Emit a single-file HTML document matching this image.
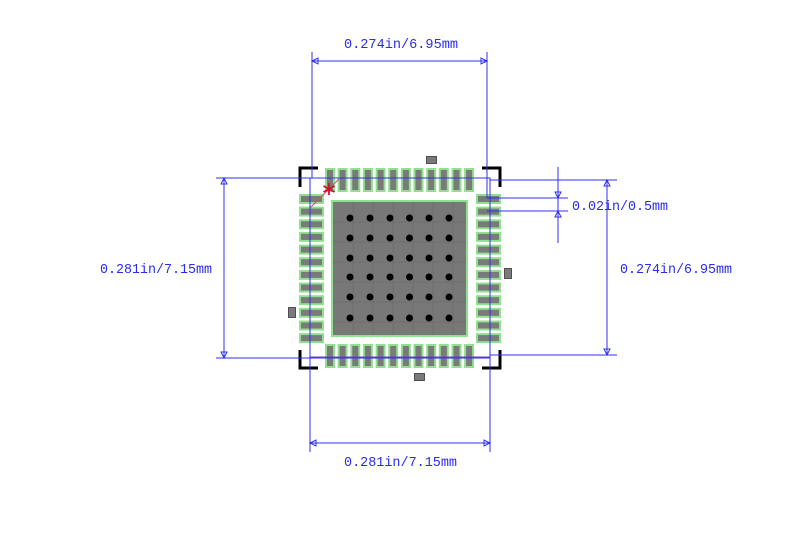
<!DOCTYPE html>
<html><head><meta charset="utf-8"><style>
html,body{margin:0;padding:0;background:#fff;width:800px;height:555px;overflow:hidden}
svg{display:block}
text{font-family:"Liberation Mono",monospace;fill:#2b2bf0;font-size:14px}
</style></head><body>
<svg width="800" height="555" viewBox="0 0 800 555" xmlns="http://www.w3.org/2000/svg">
<defs>
<g id="pv"><rect x="0" y="0" width="10" height="24" fill="#8fe08f"/><rect x="2" y="2" width="6" height="20" fill="#7a7a7a"/></g>
<g id="ph"><rect x="0" y="0" width="25" height="10" fill="#8fe08f"/><rect x="2" y="2" width="21" height="6" fill="#7a7a7a"/></g>
</defs>
<g transform="translate(0,168)">
<use href="#pv" x="325"/><use href="#pv" x="337.6"/><use href="#pv" x="350.3"/><use href="#pv" x="362.9"/><use href="#pv" x="375.6"/><use href="#pv" x="388.2"/><use href="#pv" x="400.9"/><use href="#pv" x="413.5"/><use href="#pv" x="426.2"/><use href="#pv" x="438.8"/><use href="#pv" x="451.5"/><use href="#pv" x="464.1"/>
</g>
<g transform="translate(0,344)">
<use href="#pv" x="325"/><use href="#pv" x="337.6"/><use href="#pv" x="350.3"/><use href="#pv" x="362.9"/><use href="#pv" x="375.6"/><use href="#pv" x="388.2"/><use href="#pv" x="400.9"/><use href="#pv" x="413.5"/><use href="#pv" x="426.2"/><use href="#pv" x="438.8"/><use href="#pv" x="451.5"/><use href="#pv" x="464.1"/>
</g>
<g transform="translate(299,0)">
<use href="#ph" y="194"/><use href="#ph" y="206.6"/><use href="#ph" y="219.3"/><use href="#ph" y="231.9"/><use href="#ph" y="244.6"/><use href="#ph" y="257.2"/><use href="#ph" y="269.9"/><use href="#ph" y="282.5"/><use href="#ph" y="295.2"/><use href="#ph" y="307.8"/><use href="#ph" y="320.5"/><use href="#ph" y="333.1"/>
</g>
<g transform="translate(476,0)">
<use href="#ph" y="194"/><use href="#ph" y="206.6"/><use href="#ph" y="219.3"/><use href="#ph" y="231.9"/><use href="#ph" y="244.6"/><use href="#ph" y="257.2"/><use href="#ph" y="269.9"/><use href="#ph" y="282.5"/><use href="#ph" y="295.2"/><use href="#ph" y="307.8"/><use href="#ph" y="320.5"/><use href="#ph" y="333.1"/>
</g>
<rect x="331" y="200" width="137" height="137" fill="#8fe08f"/>
<rect x="333" y="202" width="133" height="133" fill="#787878"/>
<g stroke="#6e6e6e" stroke-width="1">
<line x1="353" y1="202" x2="353" y2="335"/><line x1="373" y1="202" x2="373" y2="335"/><line x1="393" y1="202" x2="393" y2="335"/><line x1="413" y1="202" x2="413" y2="335"/><line x1="433" y1="202" x2="433" y2="335"/><line x1="453" y1="202" x2="453" y2="335"/>
<line x1="333" y1="222" x2="466" y2="222"/><line x1="333" y1="242" x2="466" y2="242"/><line x1="333" y1="262" x2="466" y2="262"/><line x1="333" y1="282" x2="466" y2="282"/><line x1="333" y1="302" x2="466" y2="302"/><line x1="333" y1="322" x2="466" y2="322"/>
</g>
<g fill="#000">
<g transform="translate(0,218)"><circle cx="350" r="3.5"/><circle cx="370" r="3.5"/><circle cx="390" r="3.5"/><circle cx="409.5" r="3.5"/><circle cx="429" r="3.5"/><circle cx="449" r="3.5"/></g>
<g transform="translate(0,238)"><circle cx="350" r="3.5"/><circle cx="370" r="3.5"/><circle cx="390" r="3.5"/><circle cx="409.5" r="3.5"/><circle cx="429" r="3.5"/><circle cx="449" r="3.5"/></g>
<g transform="translate(0,258)"><circle cx="350" r="3.5"/><circle cx="370" r="3.5"/><circle cx="390" r="3.5"/><circle cx="409.5" r="3.5"/><circle cx="429" r="3.5"/><circle cx="449" r="3.5"/></g>
<g transform="translate(0,277)"><circle cx="350" r="3.5"/><circle cx="370" r="3.5"/><circle cx="390" r="3.5"/><circle cx="409.5" r="3.5"/><circle cx="429" r="3.5"/><circle cx="449" r="3.5"/></g>
<g transform="translate(0,297)"><circle cx="350" r="3.5"/><circle cx="370" r="3.5"/><circle cx="390" r="3.5"/><circle cx="409.5" r="3.5"/><circle cx="429" r="3.5"/><circle cx="449" r="3.5"/></g>
<g transform="translate(0,318)"><circle cx="350" r="3.5"/><circle cx="370" r="3.5"/><circle cx="390" r="3.5"/><circle cx="409.5" r="3.5"/><circle cx="429" r="3.5"/><circle cx="449" r="3.5"/></g>
</g>
<g fill="#7a7a7a" stroke="#333" stroke-width="0.8">
<rect x="426.5" y="156.5" width="10" height="7"/><rect x="504.5" y="268.5" width="7" height="10"/><rect x="288.5" y="307.5" width="7" height="10"/><rect x="414.5" y="373.5" width="10" height="7"/>
</g>
<g stroke="#000" stroke-width="3" fill="none">
<polyline points="300,187 300,168 318,168"/><polyline points="482,168 500,168 500,187"/>
<polyline points="300,350 300,368 318,368"/><polyline points="482,368 500,368 500,350"/>
</g>
<rect x="310" y="178" width="180" height="179" fill="none" stroke="#7040c0" stroke-width="1"/>
<line x1="310" y1="208" x2="339" y2="179" stroke="#d05070" stroke-width="1"/>
<g stroke="#d01030" stroke-width="1.8"><line x1="329" y1="183" x2="329" y2="195"/><line x1="323.5" y1="186" x2="334.5" y2="192"/><line x1="323.5" y1="192" x2="334.5" y2="186"/></g>
<g stroke="#3030f0" stroke-width="1" fill="none">
<line x1="312" y1="52" x2="312" y2="178"/><line x1="487" y1="52" x2="487" y2="198"/>
<line x1="312" y1="61" x2="487" y2="61"/>
<line x1="216" y1="178" x2="490" y2="178"/><line x1="216" y1="358" x2="490" y2="358"/>
<line x1="224" y1="178" x2="224" y2="358"/>
<line x1="310" y1="178" x2="310" y2="452"/><line x1="490" y1="178" x2="490" y2="452"/>
<line x1="310" y1="443" x2="490" y2="443"/>
<line x1="490" y1="180" x2="617" y2="180"/><line x1="490" y1="355" x2="617" y2="355"/>
<line x1="607" y1="180" x2="607" y2="355"/>
<line x1="487" y1="198" x2="568" y2="198"/><line x1="487" y1="211" x2="568" y2="211"/>
<line x1="558" y1="167" x2="558" y2="243"/>
</g>
<g fill="none" stroke="#3030f0" stroke-width="1">
<polygon points="312,61 318,58 318,64"/><polygon points="487,61 481,58 481,64"/>
<polygon points="310,443 316,440 316,446"/><polygon points="490,443 484,440 484,446"/>
<polygon points="224,178 221,184 227,184"/><polygon points="224,358 221,352 227,352"/>
<polygon points="607,180 604,186 610,186"/><polygon points="607,355 604,349 610,349"/>
<polygon points="558,198 555,192 561,192"/><polygon points="558,211 555,217 561,217"/>
</g>
<text x="344" y="48" textLength="114" lengthAdjust="spacingAndGlyphs">0.274in/6.95mm</text>
<text x="344" y="466" textLength="113" lengthAdjust="spacingAndGlyphs">0.281in/7.15mm</text>
<text x="100" y="273" textLength="112" lengthAdjust="spacingAndGlyphs">0.281in/7.15mm</text>
<text x="620" y="273" textLength="112" lengthAdjust="spacingAndGlyphs">0.274in/6.95mm</text>
<text x="572" y="210" textLength="96" lengthAdjust="spacingAndGlyphs">0.02in/0.5mm</text>
</svg>
</body></html>
